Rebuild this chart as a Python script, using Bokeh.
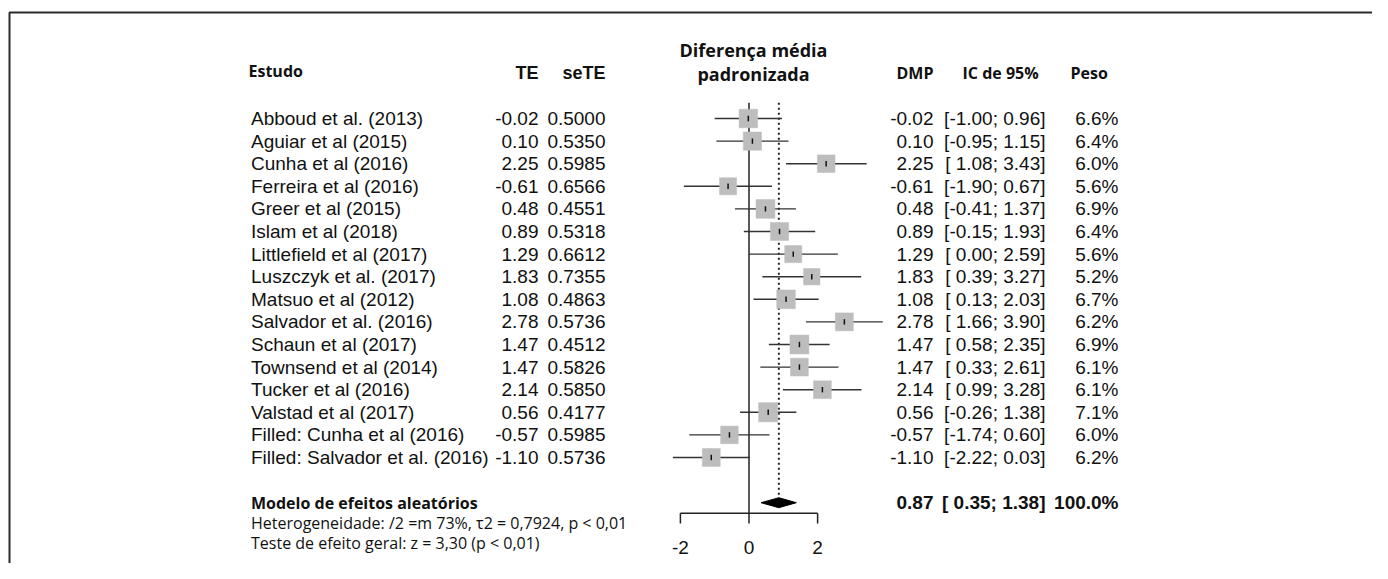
from bokeh.plotting import figure
from bokeh.models import Range1d, ColumnDataSource
from bokeh.core.properties import value
from bokeh.embed import file_html
from bokeh.resources import INLINE
import math

# ---------------- data ----------------
studies = ["Abboud et al. (2013)", "Aguiar et al (2015)", "Cunha et al (2016)",
           "Ferreira et al (2016)", "Greer et al (2015)", "Islam et al (2018)",
           "Littlefield et al (2017)", "Luszczyk et al. (2017)", "Matsuo et al (2012)",
           "Salvador et al. (2016)", "Schaun et al (2017)", "Townsend et al (2014)",
           "Tucker et al (2016)", "Valstad et al (2017)", "Filled: Cunha et al (2016)",
           "Filled: Salvador et al. (2016)"]
te = [-0.02, 0.10, 2.25, -0.61, 0.48, 0.89, 1.29, 1.83, 1.08, 2.78, 1.47, 1.47,
      2.14, 0.56, -0.57, -1.10]
sete = [0.5000, 0.5350, 0.5985, 0.6566, 0.4551, 0.5318, 0.6612, 0.7355, 0.4863,
        0.5736, 0.4512, 0.5826, 0.5850, 0.4177, 0.5985, 0.5736]
lower = [-1.00, -0.95, 1.08, -1.90, -0.41, -0.15, 0.00, 0.39, 0.13, 1.66, 0.58,
         0.33, 0.99, -0.26, -1.74, -2.22]
upper = [0.96, 1.15, 3.43, 0.67, 1.37, 1.93, 2.59, 3.27, 2.03, 3.90, 2.35, 2.61,
         3.28, 1.38, 0.60, 0.03]
weight = [6.6, 6.4, 6.0, 5.6, 6.9, 6.4, 5.6, 5.2, 6.7, 6.2, 6.9, 6.1, 6.1, 7.1,
          6.0, 6.2]
pooled_est = 0.87
pooled_lower = 0.35
pooled_upper = 1.38
pooled_weight = 100.0
x_ticks = [-2, 0, 2]
x_tick_labels = ["-2", "0", "2"]

header_cols = ["Estudo", "TE", "seTE", "DMP", "IC de 95%", "Peso"]
plot_title = ["Diferença média", "padronizada"]
model_lines = ["Modelo de efeitos aleatórios",
               "Heterogeneidade: /2 =m 73%, τ2 = 0,7924, p < 0,01",
               "Teste de efeito geral: z = 3,30 (p < 0,01)"]

# ---------------- layout ----------------
W, H = 1372, 563
X0_PX = 748.5     # pixel of effect 0
UNIT = 34.3       # px per effect unit
ROW0 = 118.0      # pixel of first row
ROWH = 22.6       # px per row
AXIS_Y = 512.7

p = figure(width=W, height=H, output_backend="svg", toolbar_location=None,
           x_range=Range1d(-X0_PX / UNIT, (W - X0_PX) / UNIT),
           y_range=Range1d((H - ROW0) / ROWH, -ROW0 / ROWH),
           x_axis_location=None, y_axis_location=None, min_border=0)
p.xgrid.visible = False
p.ygrid.visible = False
p.outline_line_color = None
p.background_fill_color = "white"
p.border_fill_color = "white"
p.extra_x_ranges = {"px": Range1d(0, W)}
p.extra_y_ranges = {"px": Range1d(H, 0)}

n = len(studies)
rows = list(range(n))
pooled_row = n + 1
axis_row = (AXIS_Y - ROW0) / ROWH

TXT = "#111111"
ARIAL = value("Liberation Sans")
OPEN = value("Open Sans")

# frame border (top & left)
p.line(x=[9, 9, W], y=[H, 12, 12], x_range_name="px", y_range_name="px",
       line_color="#2a2a2a", line_width=2)

# reference lines
p.segment(x0=[0], x1=[0], y0=[-0.7], y1=[axis_row], line_color="#222222", line_width=1.5)
p.segment(x0=[pooled_est], x1=[pooled_est], y0=[-0.7], y1=[pooled_row - 0.22],
          line_color="#222222", line_width=2, line_dash="2 3")

# study CIs and squares
src = ColumnDataSource(dict(
    y=rows, te=te, lo=lower, hi=upper,
    size=[7.2 * math.sqrt(w) for w in weight],
    y0=[r - 0.12 for r in rows], y1=[r + 0.12 for r in rows]))
p.segment(x0="lo", x1="hi", y0="y", y1="y", source=src, line_color="#333333", line_width=1.4)
p.scatter(x="te", y="y", size="size", marker="square", source=src,
          fill_color="#bdbdbd", line_color="#bdbdbd", line_width=0.5)
p.segment(x0="te", x1="te", y0="y0", y1="y1", source=src, line_color="#111111", line_width=1.5)

# pooled diamond
h = 0.22
p.patch(x=[pooled_lower, pooled_est, pooled_upper, pooled_est],
        y=[pooled_row, pooled_row - h, pooled_row, pooled_row + h],
        fill_color="black", line_color="black")

# x axis
p.segment(x0=[x_ticks[0]], x1=[x_ticks[-1]], y0=[AXIS_Y], y1=[AXIS_Y], y_range_name="px",
          line_color="#222222", line_width=1.5)
p.segment(x0=x_ticks, x1=x_ticks, y0=[AXIS_Y] * len(x_ticks), y1=[523] * len(x_ticks),
          y_range_name="px", line_color="#222222", line_width=1.5)
p.text(x=x_ticks, y=[547] * len(x_ticks), text=x_tick_labels, y_range_name="px",
       text_font=ARIAL, text_font_size="19px", text_align="center",
       text_baseline="middle", text_color=TXT)

# table texts
def fmt_ci(lo, hi):
    return "[" + f"{lo:5.2f}" + "; " + f"{hi:.2f}" + "]"

tsrc = ColumnDataSource(dict(
    y=rows, name=studies,
    te=[f"{v:.2f}" for v in te],
    se=[f"{v:.4f}" for v in sete],
    dmp=[f"{v:.2f}" for v in te],
    ci=[fmt_ci(a, b) for a, b in zip(lower, upper)],
    w=[f"{v:.1f}%" for v in weight]))
common = dict(source=tsrc, x_range_name="px", text_font=ARIAL, text_font_size="19px",
              text_baseline="middle", text_color=TXT)
p.text(x=250.5, y="y", text="name", text_align="left", **common)
p.text(x=538, y="y", text="te", text_align="right", **common)
p.text(x=605, y="y", text="se", text_align="right", **common)
p.text(x=933, y="y", text="dmp", text_align="right", **common)
p.text(x=1045, y="y", text="ci", text_align="right", **common)
p.text(x=1118, y="y", text="w", text_align="right", **common)

# pooled row texts (bold)
bold = dict(x_range_name="px", text_font=ARIAL, text_font_size="19px",
            text_baseline="middle", text_color=TXT, text_font_style="bold")
p.text(x=[933], y=[pooled_row], text=[f"{pooled_est:.2f}"], text_align="right", **bold)
p.text(x=[1045], y=[pooled_row], text=[fmt_ci(pooled_lower, pooled_upper)], text_align="right", **bold)
p.text(x=[1118], y=[pooled_row], text=[f"{pooled_weight:.1f}%"], text_align="right", **bold)

# headers
hdr_open = dict(x_range_name="px", y_range_name="px", text_font=OPEN,
                text_font_size="16px", text_font_style="bold",
                text_baseline="middle", text_color=TXT)
p.text(x=[248], y=[70], text=[header_cols[0]], text_align="left", **hdr_open)
p.text(x=[933], y=[72], text=[header_cols[3]], text_align="right", **hdr_open)
p.text(x=[962], y=[72], text=[header_cols[4]], text_align="left", **hdr_open)
p.text(x=[1070], y=[72], text=[header_cols[5]], text_align="left", **hdr_open)
p.text(x=[753, 753], y=[49, 73], text=plot_title, text_align="center",
       x_range_name="px", y_range_name="px", text_font=OPEN, text_font_size="18px",
       text_font_style="bold", text_baseline="middle", text_color=TXT)
hdr_arial = dict(x_range_name="px", y_range_name="px", text_font=ARIAL,
                 text_font_size="18px", text_font_style="bold",
                 text_baseline="middle", text_color=TXT)
p.text(x=[538], y=[72], text=[header_cols[1]], text_align="right", **hdr_arial)
p.text(x=[605], y=[72], text=[header_cols[2]], text_align="right", **hdr_arial)

# model summary texts
p.text(x=[250.5], y=[502], text=[model_lines[0]], text_align="left",
       x_range_name="px", y_range_name="px", text_font=OPEN, text_font_size="16px",
       text_font_style="bold", text_baseline="middle", text_color=TXT)
p.text(x=[250.5, 250.5], y=[522, 542], text=model_lines[1:], text_align="left",
       x_range_name="px", y_range_name="px", text_font=OPEN, text_font_size="16px",
       text_baseline="middle", text_color=TXT)

open("out.html", "w").write(file_html(p, INLINE))
